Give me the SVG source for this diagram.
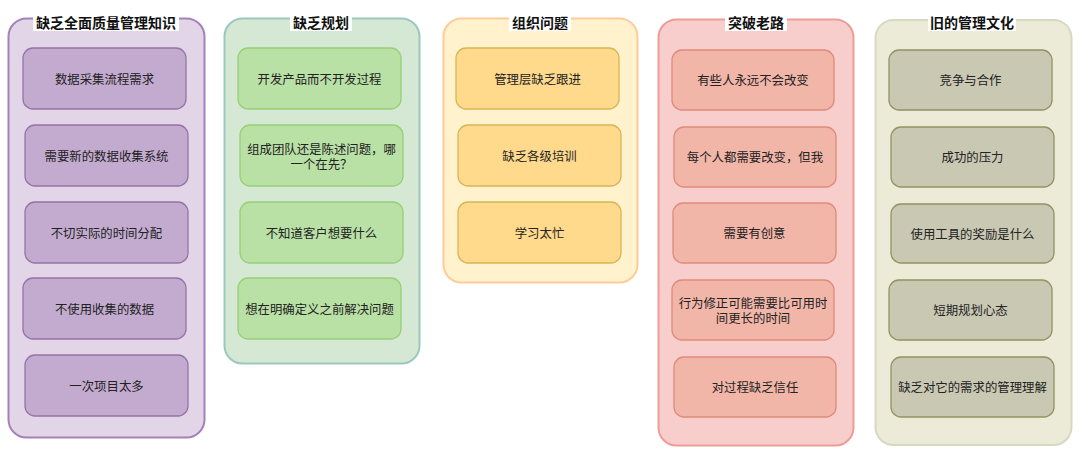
<svg xmlns="http://www.w3.org/2000/svg" width="1080" height="460" viewBox="0 0 1080 460">
<style>
text{font-family:"Noto Sans CJK SC","Noto Sans",sans-serif;fill:#222;text-anchor:middle;dominant-baseline:central}
.t{font-size:14px;font-weight:bold;fill:#111}
.n{font-size:12.4px}
.cont{stroke-width:2}
.box{stroke-width:1.3}
.tb{fill:#fff}
.p .cont{fill:#e1d5e7;stroke:#a680b8}
.p .box{fill:#c3abd0;stroke:#9673a6}
.g .cont{fill:#d5e8d4;stroke:#9ac7bf}
.g .box{fill:#b9e0a5;stroke:#97d077}
.y .cont{fill:#fff2cc;stroke:#ffcc99}
.y .box{fill:#ffd98c;stroke:#d6b656}
.r .cont{fill:#f8cecc;stroke:#ee9c98}
.r .box{fill:#f2b6a9;stroke:#df8a7a}
.o .cont{fill:#ebebd7;stroke:#d8d8c2}
.o .box{fill:#c9c8b3;stroke:#939363}
</style>
<g id="lane-tqm" class="p">
<rect class="cont" x="8.5" y="18.5" width="196" height="419" rx="18"/>
<rect class="tb" x="33" y="13" width="146" height="18"/>
<text class="t" x="106" y="22">缺乏全面质量管理知识</text>
<g id="n1-1"><rect class="box" x="23" y="48" width="163" height="61" rx="10"/><text class="n" x="104.5" y="78.5">数据采集流程需求</text></g>
<g id="n1-2"><rect class="box" x="25" y="125" width="163" height="61" rx="10"/><text class="n" x="106.5" y="155.5">需要新的数据收集系统</text></g>
<g id="n1-3"><rect class="box" x="25" y="202" width="163" height="61" rx="10"/><text class="n" x="106.5" y="232.5">不切实际的时间分配</text></g>
<g id="n1-4"><rect class="box" x="23" y="278" width="163" height="61" rx="10"/><text class="n" x="104.5" y="308.5">不使用收集的数据</text></g>
<g id="n1-5"><rect class="box" x="25" y="355" width="163" height="61" rx="10"/><text class="n" x="106.5" y="385.5">一次项目太多</text></g>
</g>
<g id="lane-plan" class="g">
<rect class="cont" x="224.5" y="18.5" width="195" height="345" rx="18"/>
<rect class="tb" x="290" y="13" width="62" height="18"/>
<text class="t" x="321" y="22">缺乏规划</text>
<g id="n2-1"><rect class="box" x="238" y="48" width="163" height="61" rx="10"/><text class="n" x="319.5" y="78.5">开发产品而不开发过程</text></g>
<g id="n2-2"><rect class="box" x="240" y="125" width="163" height="61" rx="10"/><text class="n" x="321.5" y="148.5">组成团队还是陈述问题，哪<tspan x="321.5" dy="15">一个在先？</tspan></text></g>
<g id="n2-3"><rect class="box" x="240" y="202" width="163" height="61" rx="10"/><text class="n" x="321.5" y="232.5">不知道客户想要什么</text></g>
<g id="n2-4"><rect class="box" x="238" y="278" width="163" height="61" rx="10"/><text class="n" x="319.5" y="308.5">想在明确定义之前解决问题</text></g>
</g>
<g id="lane-org" class="y">
<rect class="cont" x="443.5" y="18.5" width="194" height="264" rx="18"/>
<rect class="tb" x="509" y="13" width="62" height="18"/>
<text class="t" x="540" y="22">组织问题</text>
<g id="n3-1"><rect class="box" x="456" y="48" width="163" height="61" rx="10"/><text class="n" x="537.5" y="78.5">管理层缺乏跟进</text></g>
<g id="n3-2"><rect class="box" x="458" y="125" width="163" height="61" rx="10"/><text class="n" x="539.5" y="155.5">缺乏各级培训</text></g>
<g id="n3-3"><rect class="box" x="458" y="202" width="163" height="61" rx="10"/><text class="n" x="539.5" y="232.5">学习太忙</text></g>
</g>
<g id="lane-break" class="r">
<rect class="cont" x="658.5" y="19.5" width="195" height="426" rx="18"/>
<rect class="tb" x="725" y="13" width="62" height="18"/>
<text class="t" x="756" y="22">突破老路</text>
<g id="n4-1"><rect class="box" x="672" y="50" width="162" height="60" rx="10"/><text class="n" x="753" y="80">有些人永远不会改变</text></g>
<g id="n4-2"><rect class="box" x="674" y="127" width="162" height="60" rx="10"/><text class="n" x="755" y="157">每个人都需要改变，但我</text></g>
<g id="n4-3"><rect class="box" x="673" y="203" width="163" height="60" rx="10"/><text class="n" x="754.5" y="233">需要有创意</text></g>
<g id="n4-4"><rect class="box" x="672" y="280" width="162" height="60" rx="10"/><text class="n" x="753" y="302.5">行为修正可能需要比可用时<tspan x="753" dy="15">间更长的时间</tspan></text></g>
<g id="n4-5"><rect class="box" x="674" y="357" width="162" height="60" rx="10"/><text class="n" x="755" y="387">对过程缺乏信任</text></g>
</g>
<g id="lane-old" class="o">
<rect class="cont" x="875.5" y="20" width="196" height="425" rx="18"/>
<rect class="tb" x="928" y="13" width="88" height="18"/>
<text class="t" x="972" y="22">旧的管理文化</text>
<g id="n5-1"><rect class="box" x="889" y="50" width="163" height="60" rx="10"/><text class="n" x="970.5" y="80">竞争与合作</text></g>
<g id="n5-2"><rect class="box" x="891" y="127" width="163" height="60" rx="10"/><text class="n" x="972.5" y="157">成功的压力</text></g>
<g id="n5-3"><rect class="box" x="891" y="204" width="163" height="59" rx="10"/><text class="n" x="972.5" y="233.5">使用工具的奖励是什么</text></g>
<g id="n5-4"><rect class="box" x="889" y="280" width="163" height="60" rx="10"/><text class="n" x="970.5" y="310">短期规划心态</text></g>
<g id="n5-5"><rect class="box" x="891" y="357" width="163" height="60" rx="10"/><text class="n" x="972.5" y="387">缺乏对它的需求的管理理解</text></g>
</g>
<g id="connectors"/>
</svg>
